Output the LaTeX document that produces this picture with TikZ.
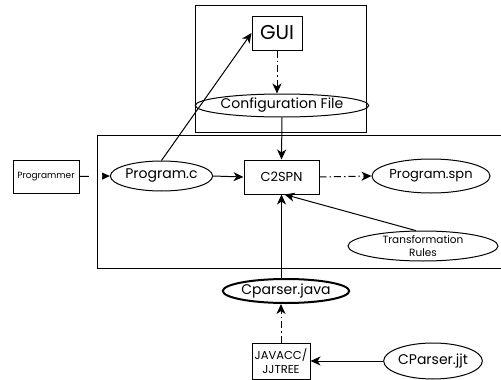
\documentclass[tikz,border=0pt]{standalone}
\usepackage{fontspec}
\setmainfont{Poppins}
\usetikzlibrary{shapes.geometric,arrows.meta}
\newcommand{\fs}[2]{\fontsize{#1}{#2}\selectfont}
\begin{document}
\begin{tikzpicture}[x=1pt,y=-1pt,
  every node/.style={inner sep=0pt, line width=1pt},
  boxn/.style={draw, rectangle},
  ell/.style={draw, ellipse},
  arr/.style={line width=1pt, -{Stealth[length=10pt,width=9pt,inset=3pt]}},
  dd/.style={arr, dash pattern=on 7pt off 3pt on 1.5pt off 3pt},
]
\useasboundingbox (0,0) rectangle (501,380);
% nodes
\node[boxn, minimum width=50pt, minimum height=34pt, font=\fs{20}{24}] (gui) at (277,33) {GUI};
\node[ell, minimum width=150pt, minimum height=23pt, font=\fs{14}{16}] (cfg) at (282,105.5) {Configuration File};
\node[boxn, minimum width=66pt, minimum height=33pt, font=\fs{9}{11}] (prgr) at (46,176.5) {Programmer};
\node[ell, minimum width=83pt, minimum height=30pt, font=\fs{14}{16}] (progc) at (161.5,176) {Program.c};
\node[boxn, minimum width=75pt, minimum height=34pt, font=\fs{13}{15}] (c2spn) at (281.5,177) {C2SPN};
\node[ell, minimum width=118pt, minimum height=34pt, font=\fs{13}{15}] (spn) at (431,176) {Program.spn};
\node[ell, minimum width=150pt, minimum height=30pt, font=\fs{10.5}{12.5}, align=center] (trans) at (423,246) {Transformation\\Rules};
\node[ell, line width=2pt, minimum width=102pt, minimum height=24pt, font=\fs{14}{16}] (cpj) at (286,291) {Cparser.java};
\node[boxn, minimum width=58pt, minimum height=36pt, font=\fs{11.5}{14}, align=center] (jav) at (281,361) {JAVACC/\\JJTREE};
\node[ell, minimum width=96pt, minimum height=36pt, font=\fs{14}{16}] (jjt) at (433,361) {CParser.jjt};
% connectors
\draw[dd] (gui.south) -- (cfg.north -| gui.south);
\draw[arr] (cfg.south -| 282,0) -- (c2spn.north);
\draw[arr] (prgr.east) -- (progc.west);
\fill[white] (89,172) rectangle (102,181);
\draw[arr] (progc.north) -- (gui.west);
\draw[arr] (progc.east) -- (c2spn.west);
\draw[dd] (c2spn.east) -- (spn.west);
\draw[arr] (trans.115) -- (c2spn.-80);
\draw[arr] (cpj.north -| c2spn.south) -- (c2spn.south);
\draw[dd] (jav.north) -- (cpj.south -| jav.north);
\draw[arr] (jjt.west) -- (jav.east);
% frames
\draw[line width=1pt] (195,5) rectangle (366,132);
\draw[line width=1pt] (501,135) -- (97,135) -- (97,268) -- (501,268);
\end{tikzpicture}
\end{document}
